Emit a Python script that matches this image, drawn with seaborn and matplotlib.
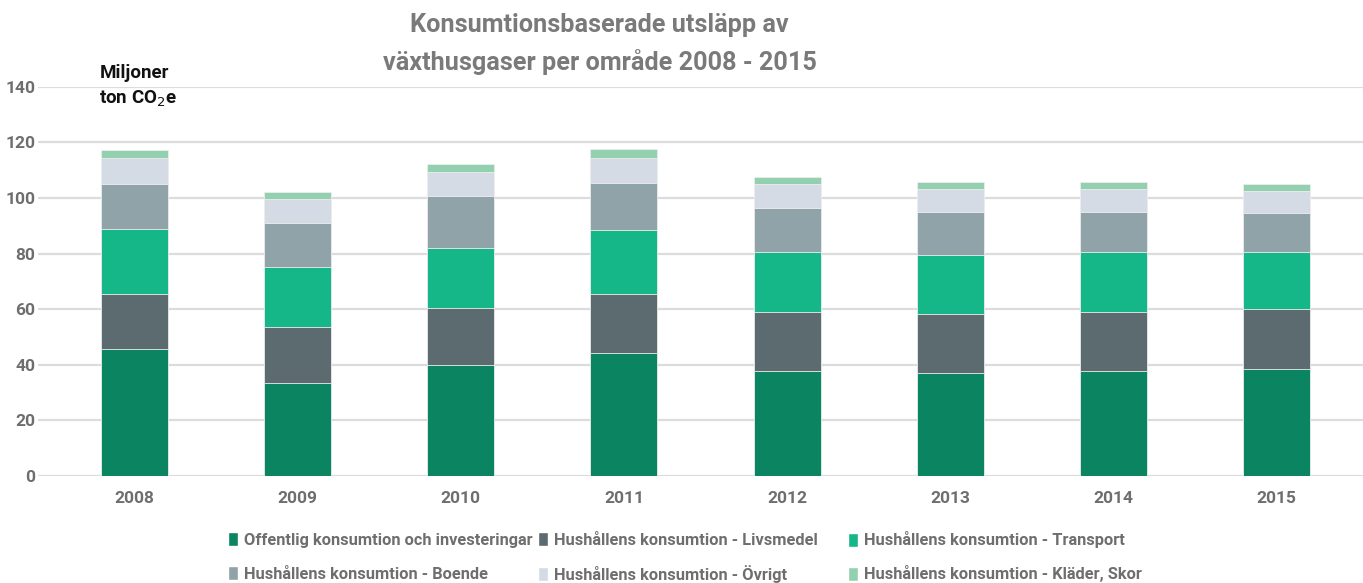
import numpy as np
import pandas as pd
import matplotlib
matplotlib.use("Agg")
import matplotlib.pyplot as plt
from matplotlib.patches import Patch
import seaborn as sns

# Data (miljoner ton CO2e)
years = ["2008", "2009", "2010", "2011", "2012", "2013", "2014", "2015"]
offentlig = [45.6, 33.4, 39.8, 44.2, 37.7, 37.2, 37.7, 38.6]
livsmedel = [19.9, 20.1, 20.5, 21.4, 21.2, 21.2, 21.2, 21.6]
transport = [23.3, 21.6, 21.9, 22.9, 21.8, 21.2, 21.8, 20.5]
boende = [16.3, 16.0, 18.6, 16.9, 15.8, 15.4, 14.3, 14.0]
ovrigt = [9.2, 8.6, 8.6, 9.1, 8.6, 8.2, 8.2, 7.9]
klader = [3.0, 2.6, 2.9, 3.1, 2.6, 2.6, 2.6, 2.5]

labels = ["Offentlig konsumtion och investeringar",
          "Hushållens konsumtion - Livsmedel",
          "Hushållens konsumtion - Transport",
          "Hushållens konsumtion - Boende",
          "Hushållens konsumtion - Övrigt",
          "Hushållens konsumtion - Kläder, Skor"]
colors = ["#0b8461", "#5b6b70", "#15b688", "#8fa3a8", "#d4dbe4", "#93d0b0"]

df = pd.DataFrame({"year": years, labels[0]: offentlig, labels[1]: livsmedel,
                   labels[2]: transport, labels[3]: boende,
                   labels[4]: ovrigt, labels[5]: klader})
# cumulative sums for stacking
cum = df[labels].cumsum(axis=1)

sns.set_theme(style="white")
plt.rcParams['font.family'] = ['Roboto', 'DejaVu Sans']
grey = "#6e6e6e"

fig = plt.figure(figsize=(13.63, 5.83), dpi=100)
ax = fig.add_axes([0.028, 0.1835, 0.972, 0.6675])

ax.set_axisbelow(True)
ax.yaxis.grid(True, color="#dcdcdc", linewidth=1.6)

# draw from the top layer down so lower segments cover the upper totals
for lab, col in reversed(list(zip(labels, colors))):
    sns.barplot(x=df["year"], y=cum[lab], color=col, width=0.41,
                edgecolor="#eeeeee", linewidth=0.6, ax=ax, saturation=1)

ax.set_ylim(0, 140)
ax.set_xlim(-0.59, 7.53)
ax.set_yticks(range(0, 141, 20))
ax.set_xlabel("")
ax.set_ylabel("")
sns.despine(ax=ax, left=True, bottom=True)
ax.tick_params(axis="both", length=0, labelsize=12.5, labelcolor=grey)
ax.tick_params(axis="x", pad=11)
ax.tick_params(axis="y", pad=2)
for t in ax.get_xticklabels() + ax.get_yticklabels():
    t.set_fontweight("bold")

fig.text(0.44, 0.977, "Konsumtionsbaserade utsläpp av\nväxthusgaser per område 2008 - 2015",
         ha="center", va="top", fontsize=18.2, fontweight="bold", color="#7a7a7a",
         linespacing=1.55)
fig.text(0.073, 0.891, "Miljoner\nton CO$_2$e", ha="left", va="top", fontsize=13.5,
         fontweight="bold", color="#111111", linespacing=1.5)

# legend entries placed on a fixed 3x2 grid
col_x = [228, 538, 848]
row_y = [540, 574]
for i, (lab, col) in enumerate(zip(labels, colors)):
    x = col_x[i % 3]
    y = row_y[i // 3]
    fig.legend(handles=[Patch(facecolor=col, label=lab)], loc="center left",
               bbox_to_anchor=(x / 1363, 1 - y / 583), borderaxespad=0, borderpad=0,
               frameon=False, handlelength=0.6, handleheight=0.9, handletextpad=0.4,
               prop={"weight": "bold", "size": 11.8}, labelcolor=grey)

fig.savefig("out.png", dpi=100)
